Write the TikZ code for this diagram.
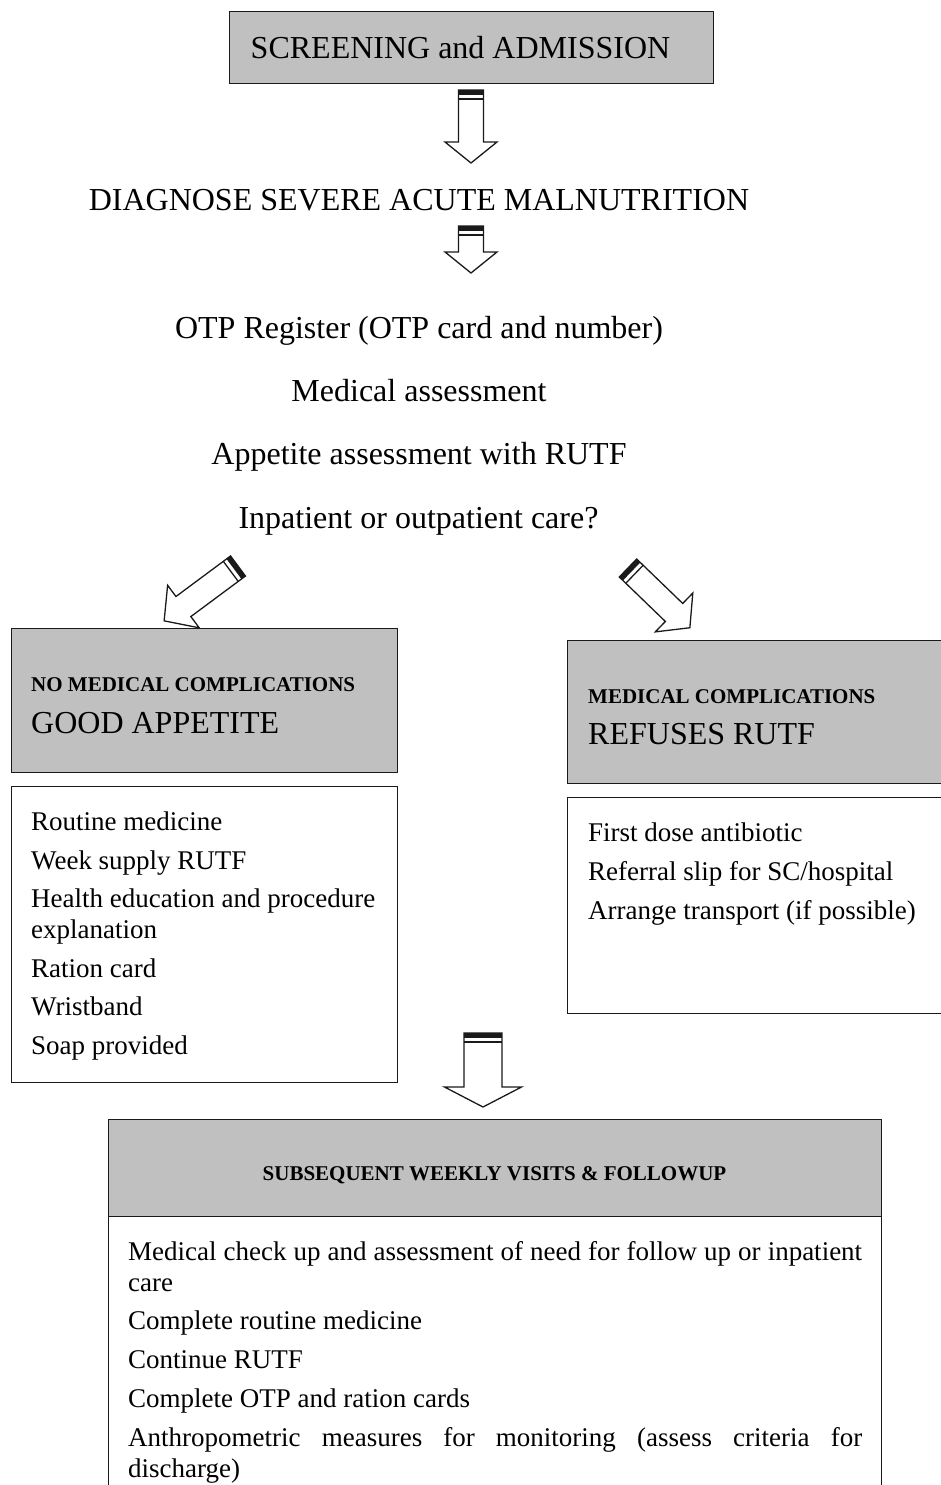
\documentclass[tikz,border=0pt]{standalone}
\usepackage{fontspec}
\setmainfont{Liberation Serif}
\definecolor{boxgray}{HTML}{C0C0C0}
\definecolor{edge}{HTML}{1A1A1A}
\tikzset{
  box/.style={draw=edge, line width=1.4pt, inner sep=0pt, anchor=north west},
  graybox/.style={box, fill=boxgray},
  whitebox/.style={box, fill=white},
  headtext/.style={font=\fontsize{32}{36}\selectfont, anchor=base, inner sep=0pt},
  bodytext/.style={font=\fontsize{27}{31}\selectfont, anchor=base west, inner sep=0pt, align=left},
  justtext/.style={font=\fontsize{27}{31}\selectfont, anchor=base west, inner sep=0pt, text width=734pt, align=justify},
  smallcaps/.style={font=\fontsize{21}{24}\selectfont\bfseries, inner sep=0pt},
  bigcaps/.style={font=\fontsize{32}{36}\selectfont, anchor=base west, inner sep=0pt},
  arrowline/.style={draw=edge, line width=1.3pt, line join=miter, fill=white},
}
% #1 start, #2 angle, #3 length, #4 shaft half width, #5 head half width, #6 head length
\newcommand\hollowarrow[6]{%
  \begin{scope}[shift={#1}, rotate=#2]
    \path[arrowline] (0,-#4) -- ({#3-#6},-#4) -- ({#3-#6},-#5) -- (#3,0) -- ({#3-#6},#5) -- ({#3-#6},#4) -- (0,#4) -- cycle;
    \fill[edge] (0,-#4) rectangle (5,#4);
    \draw[edge, line width=1.3pt] (9,-#4) -- (9,#4);
  \end{scope}}
\begin{document}
\begin{tikzpicture}[x=1pt, y=-1pt]
\useasboundingbox (0,0) rectangle (941,1485);
\clip (0,0) rectangle (941,1485);

% top box
\node[graybox, minimum width=484pt, minimum height=72pt] (screen) at (229,11) {};
\node[headtext] (screentxt) at (460.5,59) {SCREENING and ADMISSION};

\coordinate (a1) at (471,90);
\hollowarrow{(a1)}{-90}{73}{12.5}{26}{21}

\node[headtext] (diag) at (419,210) {DIAGNOSE SEVERE ACUTE MALNUTRITION};

\coordinate (a2) at (471,226);
\hollowarrow{(a2)}{-90}{47}{12.5}{26}{21}

\node[headtext] (otp) at (419,338) {OTP Register (OTP card and number)};
\node[headtext] (medass) at (419,401) {Medical assessment};
\node[headtext] (appass) at (419,464) {Appetite assessment with RUTF};
\node[headtext] (inout) at (418.5,528) {Inpatient or outpatient care?};

\coordinate (a3) at (238,566);
\hollowarrow{(a3)}{216.6}{92}{12.5}{26.5}{24}
\coordinate (a4) at (628,568);
\hollowarrow{(a4)}{-44}{86}{12.5}{27}{22}

% left branch
\node[graybox, minimum width=386pt, minimum height=144pt] (nomed) at (11,628) {};
\node[smallcaps, anchor=base west] (nomedtxt) at (31,691) {NO MEDICAL COMPLICATIONS};
\node[bigcaps] (good) at (31,733) {GOOD APPETITE};
\node[whitebox, minimum width=386pt, minimum height=296pt] (leftlist) at (11,786) {};
\node[bodytext] (l1) at (31,830) {Routine medicine};
\node[bodytext] (l2) at (31,869) {Week supply RUTF};
\node[bodytext] (l3) at (31,938) {Health education and procedure\\explanation};
\node[bodytext] (l4) at (31,977) {Ration card};
\node[bodytext] (l5) at (31,1015) {Wristband};
\node[bodytext] (l6) at (31,1054) {Soap provided};

% right branch
\node[graybox, minimum width=380pt, minimum height=143pt] (med) at (567,640) {};
\node[smallcaps, anchor=base west] (medtxt) at (588,703) {MEDICAL COMPLICATIONS};
\node[bigcaps] (refuse) at (588,744) {REFUSES RUTF};
\node[whitebox, minimum width=380pt, minimum height=216pt] (rightlist) at (567,797) {};
\node[bodytext] (r1) at (588,841) {First dose antibiotic};
\node[bodytext] (r2) at (588,880) {Referral slip for SC/hospital};
\node[bodytext] (r3) at (588,919) {Arrange transport (if possible)};

\coordinate (a5) at (483,1033);
\hollowarrow{(a5)}{-90}{74}{19}{38.5}{20}

% bottom
\node[graybox, minimum width=773pt, minimum height=97pt] (follow) at (108,1119) {};
\node[smallcaps] (followtxt) at (494.5,1175) {SUBSEQUENT WEEKLY VISITS \& FOLLOWUP};
\node[whitebox, minimum width=773pt, minimum height=290pt] (followlist) at (108,1216) {};
\node[justtext] (b1) at (128,1260) {Medical check up and assessment of need for follow up or inpatient\linebreak care};
\node[bodytext] (b2) at (128,1329) {Complete routine medicine};
\node[bodytext] (b3) at (128,1368) {Continue RUTF};
\node[bodytext] (b4) at (128,1407) {Complete OTP and ration cards};
\node[justtext] (b5) at (128,1446) {Anthropometric measures for monitoring (assess criteria for\linebreak discharge)};
\end{tikzpicture}
\end{document}
